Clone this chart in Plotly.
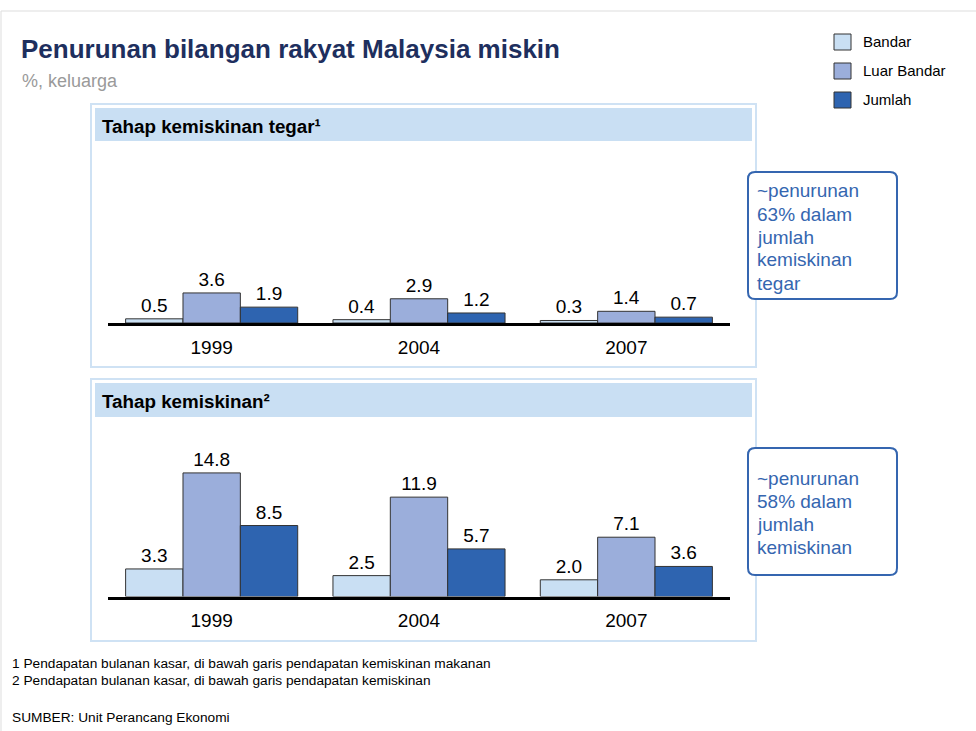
import plotly.graph_objects as go

W, H = 976, 731

years = ["1999", "2004", "2007"]
series_names = ["Bandar", "Luar Bandar", "Jumlah"]
series_colors = ["#C9DFF3", "#9BAEDB", "#2E64B0"]

tegar_bandar = [0.5, 0.4, 0.3]
tegar_luar = [3.6, 2.9, 1.4]
tegar_jumlah = [1.9, 1.2, 0.7]

miskin_bandar = [3.3, 2.5, 2.0]
miskin_luar = [14.8, 11.9, 7.1]
miskin_jumlah = [8.5, 5.7, 3.6]

title = "Penurunan bilangan rakyat Malaysia miskin"
subtitle = "%, keluarga"
panel_titles = ["Tahap kemiskinan tegar¹", "Tahap kemiskinan²"]
callout1 = ["~penurunan", "63% dalam", "jumlah", "kemiskinan", "tegar"]
callout2 = ["~penurunan", "58% dalam", "jumlah", "kemiskinan"]
footnotes = ["1 Pendapatan bulanan kasar, di bawah garis pendapatan kemiskinan makanan",
             "2 Pendapatan bulanan kasar, di bawah garis pendapatan kemiskinan"]
source = "SUMBER: Unit Perancang Ekonomi"

FONT = "Liberation Sans, Arial, sans-serif"
BLUE_TXT = "#3566B0"


def X(px):
    return px / W


def Y(py):
    return 1 - py / H


fig = go.Figure()

panels = [
    ("x", "y", [tegar_bandar, tegar_luar, tegar_jumlah]),
    ("x2", "y2", [miskin_bandar, miskin_luar, miskin_jumlah]),
]
for xa, ya, vals in panels:
    for name, color, v in zip(series_names, series_colors, vals):
        fig.add_trace(go.Bar(
            x=years, y=v, name=name, xaxis=xa, yaxis=ya,
            marker=dict(color=color, line=dict(color="#333333", width=1)),
            text=[f"{t:.1f}" for t in v], textposition="outside",
            textfont=dict(size=19, color="#000000", family=FONT),
            cliponaxis=False, showlegend=False,
        ))

PX_PER_UNIT = 8.35
# panel geometry (pixels)
p1_bottom, p1_top = 323, 145
p2_bottom, p2_top = 596.5, 420
x_left, x_right = 108, 730

axis_common = dict(
    type="category", showgrid=False, zeroline=False, showline=True,
    linecolor="#000000", linewidth=3, ticks="", ticklabelstandoff=5,
    tickfont=dict(size=19, color="#000000", family=FONT),
    range=[-0.5, 2.5], fixedrange=True,
)
yaxis_common = dict(visible=False, showgrid=False, zeroline=False, fixedrange=True)

fig.update_layout(
    width=W, height=H,
    margin=dict(l=0, r=0, t=0, b=0),
    paper_bgcolor="white", plot_bgcolor="rgba(0,0,0,0)",
    barmode="group", bargap=0.17, bargroupgap=0,
    font=dict(family=FONT),
    xaxis=dict(domain=[X(x_left), X(x_right)], anchor="y", **axis_common),
    yaxis=dict(domain=[Y(p1_bottom), Y(p1_top)], anchor="x",
               range=[0, (p1_bottom - p1_top) / PX_PER_UNIT], **yaxis_common),
    xaxis2=dict(domain=[X(x_left), X(x_right)], anchor="y2", **axis_common),
    yaxis2=dict(domain=[Y(p2_bottom), Y(p2_top)], anchor="x2",
                range=[0, (p2_bottom - p2_top) / PX_PER_UNIT], **yaxis_common),
)

shapes = []
# outer frame
shapes.append(dict(type="rect", xref="paper", yref="paper",
                   x0=X(1), x1=X(990), y0=Y(11), y1=Y(760),
                   line=dict(color="#DDDDDD", width=1), layer="below"))
# panel frames and headers
for (top, bottom, htop, hbot) in [(104, 367, 108, 141), (379, 641, 383, 417)]:
    shapes.append(dict(type="rect", xref="paper", yref="paper",
                       x0=X(91), x1=X(756), y0=Y(bottom), y1=Y(top),
                       line=dict(color="#CFE2F4", width=2), layer="below"))
    shapes.append(dict(type="rect", xref="paper", yref="paper",
                       x0=X(95), x1=X(752), y0=Y(hbot), y1=Y(htop),
                       fillcolor="#C9DFF3", line=dict(width=0), layer="below"))


def rounded_box(x0, y0, x1, y1, r=7):
    p = (f"M {X(x0 + r)},{Y(y0)} L {X(x1 - r)},{Y(y0)} Q {X(x1)},{Y(y0)} {X(x1)},{Y(y0 + r)} "
         f"L {X(x1)},{Y(y1 - r)} Q {X(x1)},{Y(y1)} {X(x1 - r)},{Y(y1)} "
         f"L {X(x0 + r)},{Y(y1)} Q {X(x0)},{Y(y1)} {X(x0)},{Y(y1 - r)} "
         f"L {X(x0)},{Y(y0 + r)} Q {X(x0)},{Y(y0)} {X(x0 + r)},{Y(y0)} Z")
    return dict(type="path", xref="paper", yref="paper", path=p,
                fillcolor="white", line=dict(color=BLUE_TXT, width=2))


shapes.append(rounded_box(748, 172, 897, 299))
shapes.append(rounded_box(748, 448, 897, 575))

# legend squares
leg_y = [42, 71, 100]
for c, yy in zip(series_colors, leg_y):
    shapes.append(dict(type="rect", xref="paper", yref="paper",
                       x0=X(834), x1=X(851), y0=Y(yy + 8), y1=Y(yy - 8),
                       fillcolor=c, line=dict(color="#333333", width=1)))

fig.update_layout(shapes=shapes)

ann = []


def txt(text, x, y, size, color="#000000", bold=False, xanchor="left"):
    if bold:
        text = f"<b>{text}</b>"
    ann.append(dict(text=text, x=X(x), y=Y(y), xref="paper", yref="paper",
                    xanchor=xanchor, yanchor="middle", showarrow=False,
                    font=dict(size=size, color=color, family=FONT)))


txt(title, 19, 49, 26, "#1E2F5E", bold=True)
txt(subtitle, 20, 81, 18, "#9A9A9A")
for name, yy in zip(series_names, leg_y):
    txt(name, 861, yy, 15)
txt(panel_titles[0], 100, 126, 18.8, bold=True)
txt(panel_titles[1], 100, 401, 18.8, bold=True)
for i, line in enumerate(callout1):
    txt(line, 755, 191 + 23 * i, 19, BLUE_TXT)
for i, line in enumerate(callout2):
    txt(line, 755, 478 + 23 * i, 19, BLUE_TXT)
txt(footnotes[0], 10, 663, 13.7)
txt(footnotes[1], 10, 680, 13.7)
txt(source, 10, 717, 13.7)

fig.update_layout(annotations=ann)

fig.write_html("out.html", config={"displayModeBar": False},
               post_script="document.body.style.margin='0';document.body.style.overflow='hidden';")
